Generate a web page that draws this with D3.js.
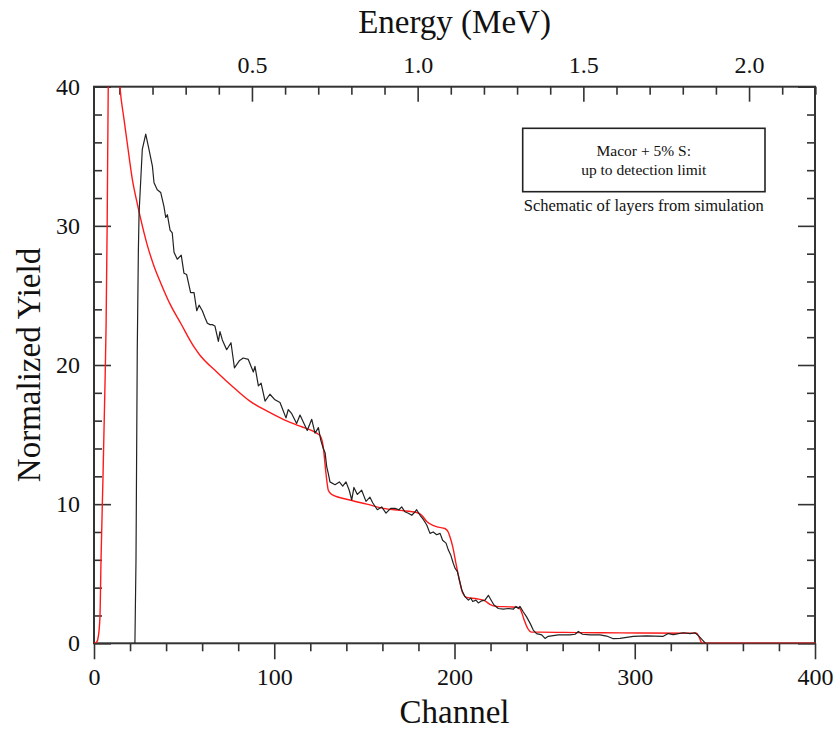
<!DOCTYPE html>
<html><head><meta charset="utf-8">
<script src="https://cdn.jsdelivr.net/npm/d3@7"></script>
<style>
html,body{margin:0;padding:0;background:#fff;}
svg{display:block;}
text{font-family:"Liberation Serif","Times New Roman",serif;fill:#111;}
</style></head>
<body>
<svg id="chart" width="839" height="731"></svg>
<script>
// ---- data (channel, normalized yield) ----
const expChannel = [22.7,23.3,24,24.6,25,26.8,28.7,30.5,32.4,33.3,35.1,37,38.8,39.8,40.7,42.2,43.4,44.4,46.2,48.4,49.9,51.4,53.6,55.5,57,58.3,60.1,61.6,62.9,64.4,65.6,67.1,69,69.9,71.2,73.6,76,77.9,80.6,82.8,85.6,88.4,89.3,91.2,92.7,94.9,97.6,100.4,103.2,104.7,106.5,107.8,109.7,112.4,114.3,116.1,118.3,120.8,122.6,124.5,125.8,127.2,128.2,129.1,130,130.9,133.7,136.1,138,139.8,141.6,143,144.2,146.1,148.5,150.9,153.1,154.6,157.2,159.6,162,164.6,167,169.2,170.7,172.5,174.4,176.3,178.1,179,180.9,182.7,184.6,186.4,188.2,190.1,192,193.4,195.3,196.6,197.9,199.3,200.3,201.6,202.7,204,205.8,207.7,209,210.1,211.9,213.2,215.1,216.9,218.8,220.1,221.9,224.3,227.1,229.9,232.6,234.1,235.4,236.3,238.2,240,241.9,243.7,245.5,248.4,250.2,252,254.8,257.6,260.4,264.1,266.9,268.7,271,275.2,280.7,284.4,288.1,291.8,295.5,299.2,306.6,315.8,318.6,321.4,327,330.7,333.4,335.3,337.1,339.3];
const expYield   = [0,6,21,28.1,30.9,35.5,36.6,35.5,34.3,33.1,32.6,32.4,31.4,30.6,30.8,29.7,29.5,28.1,27.6,27.9,26.6,26.5,25.2,25.2,23.9,24.3,23.9,23.4,23.0,22.9,22.9,22.8,21.7,22.4,21.8,21.1,21.6,19.8,20.3,20.5,20.4,19.5,19.9,18.5,18.7,17.4,17.9,17.5,17.3,16.8,16.2,16.8,16.5,15.8,16.4,15.9,15.3,16.1,15.1,15.5,14.6,14.0,13.7,12.7,12.2,11.6,11.4,11.6,11.3,11.6,11.0,10.3,11.2,10.7,11.0,10.2,10.5,10.1,9.6,9.8,9.35,9.7,9.7,9.6,9.8,9.45,9.35,9.2,9.45,9.6,9.2,8.9,8.5,7.9,8.0,7.8,7.9,7.4,7.2,6.7,6.35,5.75,5.4,5.15,4.55,3.85,3.35,3.1,3.25,3.0,3.1,2.9,3.05,3.1,3.45,3.15,2.75,2.5,2.45,2.5,2.45,2.65,2.5,2.65,2.25,1.9,1.45,0.95,0.7,0.6,0.35,0.5,0.55,0.6,0.6,0.6,0.65,0.85,0.65,0.6,0.6,0.52,0.33,0.35,0.43,0.5,0.53,0.5,0.7,0.62,0.76,0.7,0.76,0.55,0.3,0];

const simChannel = [0,1.5,2.4,3.3,3.9,5,6,6.7,7.3,7.9,9,11,13,14.4,16.6,18.5,21.2,24,25.9,29.6,33.3,37,42.5,48.1,55.5,58.8,68.1,77.3,86.5,95.8,105,114.3,123.5,125.5,127.2,128.7,130,131.8,142,151.3,160.5,169.8,179,181.8,184.6,188.3,191,194.7,196.5,197.6,199,200.8,202.7,204.6,206.8,212.3,216.9,219.6,223.3,230.7,235.4,236.7,238.6,240.5,242.8,247.4,269.6,291.8,334.3,335.5,337.5,400];
const simYield   = [0,0.1,0.5,1.9,6,12,18,22.8,30,40,46,47,43,40,37.7,35.9,33.4,31.6,30.5,28.6,27.1,25.9,24.3,23.0,21.3,20.7,19.5,18.4,17.4,16.7,16.1,15.6,15.1,14.9,14.1,12.2,11.0,10.7,10.3,10.0,9.7,9.55,9.4,9.2,8.75,8.45,8.35,8.25,8.0,7.6,6.95,5.75,4.55,3.6,3.3,3.2,3.05,2.8,2.65,2.62,2.58,2.4,1.7,1.1,0.8,0.8,0.77,0.75,0.72,0.5,0,0];

const xTicksMajor = [0,100,200,300,400];
const yTicksMajor = [0,10,20,30,40];
const eTicksMajor = [0.5,1.0,1.5,2.0];
const legendLines = ["Macor + 5% S:","up to detection limit"];
const legendCaption = "Schematic of layers from simulation";

// ---- layout ----
const FONT = '"Liberation Serif","Times New Roman",serif';
const svg = d3.select("#chart");
const L = 94, R = 815, T = 86.7, B = 643.3;
const x = d3.scaleLinear().domain([0,400]).range([L,R]);
const y = d3.scaleLinear().domain([0,40]).range([B,T]);
// energy calibration: E = 0.005439*(ch + 4.3)
const eAt = ch => 0.005439*(ch+4.3);
const xE = d3.scaleLinear().domain([eAt(0),eAt(400)]).range([L,R]);

const axisColor = "#333";
function styleAxis(g){
  g.attr("font-family",FONT);
  g.select(".domain").remove();
  g.selectAll(".tick line").attr("stroke",axisColor).attr("stroke-width",1.6);
  g.selectAll("text").style("font-family",FONT).attr("fill","#111");
}

// bottom axis
const xMinor = d3.range(0,401,20).filter(v=>v%100!==0);
svg.append("g").attr("transform",`translate(0,${B})`)
  .call(d3.axisBottom(x).tickValues(xMinor).tickSize(8).tickFormat(""))
  .call(styleAxis);
svg.append("g").attr("transform",`translate(0,${B})`)
  .call(d3.axisBottom(x).tickValues(xTicksMajor).tickSize(16).tickPadding(9).tickFormat(d3.format("d")))
  .call(styleAxis)
  .selectAll("text").style("font-size","24px");

// left axis
const yMinor = d3.range(0,41,2).filter(v=>v%10!==0);
svg.append("g").attr("transform",`translate(${L},0)`)
  .call(d3.axisLeft(y).tickValues(yMinor).tickSize(-8).tickFormat(""))
  .call(styleAxis);
svg.append("g").attr("transform",`translate(${L},0)`)
  .call(d3.axisLeft(y).tickValues(yTicksMajor).tickSize(-17).tickPadding(14).tickFormat(d3.format("d")))
  .call(styleAxis)
  .selectAll("text").style("font-size","24px");

// right axis
svg.append("g").attr("transform",`translate(${R},0)`)
  .call(d3.axisRight(y).tickValues(yMinor).tickSize(-8).tickFormat(""))
  .call(styleAxis);
svg.append("g").attr("transform",`translate(${R},0)`)
  .call(d3.axisRight(y).tickValues(yTicksMajor).tickSize(-17).tickFormat(""))
  .call(styleAxis);

// top axis (energy)
const eMinor = d3.range(1,23).map(v=>v/10).filter(v=>Math.abs(v*2-Math.round(v*2))>1e-6);
svg.append("g").attr("transform",`translate(0,${T})`)
  .call(d3.axisTop(xE).tickValues(eMinor).tickSize(-8).tickFormat(""))
  .call(styleAxis);
svg.append("g").attr("transform",`translate(0,${T})`)
  .call(d3.axisTop(xE).tickValues(eTicksMajor).tickSize(-15).tickPadding(14).tickFormat(d3.format(".1f")))
  .call(styleAxis)
  .selectAll("text").style("font-size","24px");

// frame
svg.append("rect").attr("x",L).attr("y",T).attr("width",R-L).attr("height",B-T)
  .attr("fill","none").attr("stroke",axisColor).attr("stroke-width",2);

// clip
svg.append("clipPath").attr("id","plotclip").append("rect")
  .attr("x",L).attr("y",T).attr("width",R-L).attr("height",B-T);

const simData = simChannel.map((c,i)=>[c,simYield[i]]);
const expData = expChannel.map((c,i)=>[c,expYield[i]]);

const plot = svg.append("g").attr("clip-path","url(#plotclip)");
plot.append("path").datum(simData)
  .attr("fill","none").attr("stroke","#ff1a1a").attr("stroke-width",1.4)
  .attr("d",d3.line().x(d=>x(d[0])).y(d=>y(d[1])).curve(d3.curveMonotoneX));
plot.append("path").datum(expData)
  .attr("fill","none").attr("stroke","#222").attr("stroke-width",1.2).attr("stroke-linejoin","round")
  .attr("d",d3.line().x(d=>x(d[0])).y(d=>y(d[1])));

// titles
function addText(xp,yp,size,txt,transform){
  const t = svg.append("text").attr("text-anchor","middle")
    .style("font-family",FONT).style("font-size",size+"px").attr("fill","#111").text(txt);
  if (transform) t.attr("transform",transform); else t.attr("x",xp).attr("y",yp);
  return t;
}
addText((L+R)/2,33,33,"Energy (MeV)");
addText((L+R)/2,723,33,"Channel");
addText(0,0,33,"Normalized Yield",`translate(40,${(T+B)/2}) rotate(-90)`);

// legend box
svg.append("rect").attr("x",522.7).attr("y",128.3).attr("width",242.3).attr("height",63.4)
  .attr("fill","#fff").attr("stroke","#222").attr("stroke-width",1.6);
legendLines.forEach((t,i)=> addText(643.8,156+i*19,15.5,t));
addText(643.8,210.5,16.5,legendCaption);
</script>
</body></html>
